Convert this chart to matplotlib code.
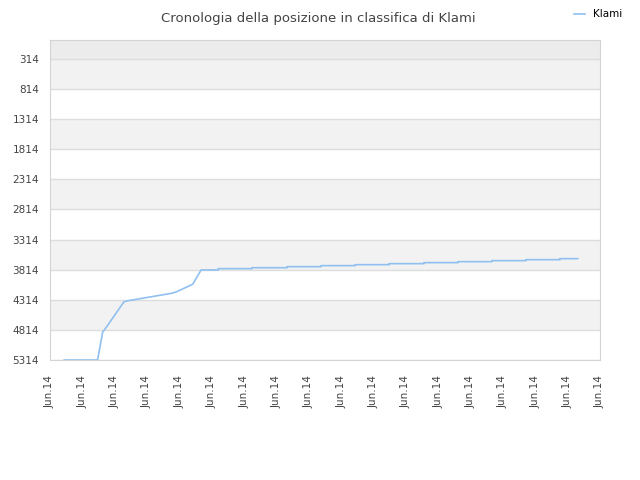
import numpy as np
import matplotlib.pyplot as plt

judul = 'Cronologia della posizione in classifica di Klami'
nama_seri = 'Klami'

# posizione nel tempo (x in unita' di tick)
xs = [0.44, 1.47, 1.63, 1.68, 2.29, 2.42, 3.76, 3.92, 4.41, 4.67, 5.20,
      5.20, 6.25, 6.25, 7.33, 7.33, 8.38, 8.38, 9.43, 9.43, 10.48, 10.48,
      11.56, 11.56, 12.61, 12.61, 13.66, 13.66, 14.71, 14.71, 15.76, 15.76, 16.31]
posisi = [5314, 5314, 4844, 4816, 4345, 4329, 4206, 4179, 4056, 3819, 3819,
          3797, 3797, 3781, 3781, 3764, 3764, 3747, 3747, 3731, 3731, 3714,
          3714, 3697, 3697, 3681, 3681, 3664, 3664, 3648, 3648, 3631, 3631]
label_x = ['Jun.14'] * 18
tick_y = [314, 814, 1314, 1814, 2314, 2814, 3314, 3814, 4314, 4814, 5314]

fig = plt.figure(figsize=(6.4, 4.8), dpi=100)
ax = fig.add_axes([50 / 640, 1 - 360 / 480, 550 / 640, 320 / 480])

# bande alternate
ax.axhspan(0, 314, color='#ececec', zorder=0, lw=0)
for i in range(len(tick_y) - 1):
    if i % 2 == 0:
        ax.axhspan(tick_y[i], tick_y[i + 1], color='#f2f2f2', zorder=0, lw=0)
for t in tick_y:
    ax.axhline(t, color='#dddddd', lw=1, zorder=1)

ax.plot(xs, posisi, color='#90c0f0', lw=1.2, zorder=3, label=nama_seri)

ax.set_xlim(0, 17)
ax.set_ylim(5314, 0)
ax.set_yticks(tick_y)
ax.set_yticklabels([str(t) for t in tick_y])
ax.set_xticks(range(18))
ax.set_xticklabels(label_x, rotation=90)
ax.tick_params(length=0, labelsize=7.5, colors='#444444')
ax.tick_params(axis='x', pad=11)
ax.tick_params(axis='y', pad=8)
for s in ax.spines.values():
    s.set_color('#d4d4d4')

fig.text(0.497, 0.975, judul, ha='center', va='top', fontsize=9.5, color='#444444')
fig.legend(loc='upper right', bbox_to_anchor=(0.987, 1.0), frameon=False,
           fontsize=7.5, handlelength=1.0, handletextpad=0.8)

fig.savefig('out.png', dpi=100)
plt.close(fig)
